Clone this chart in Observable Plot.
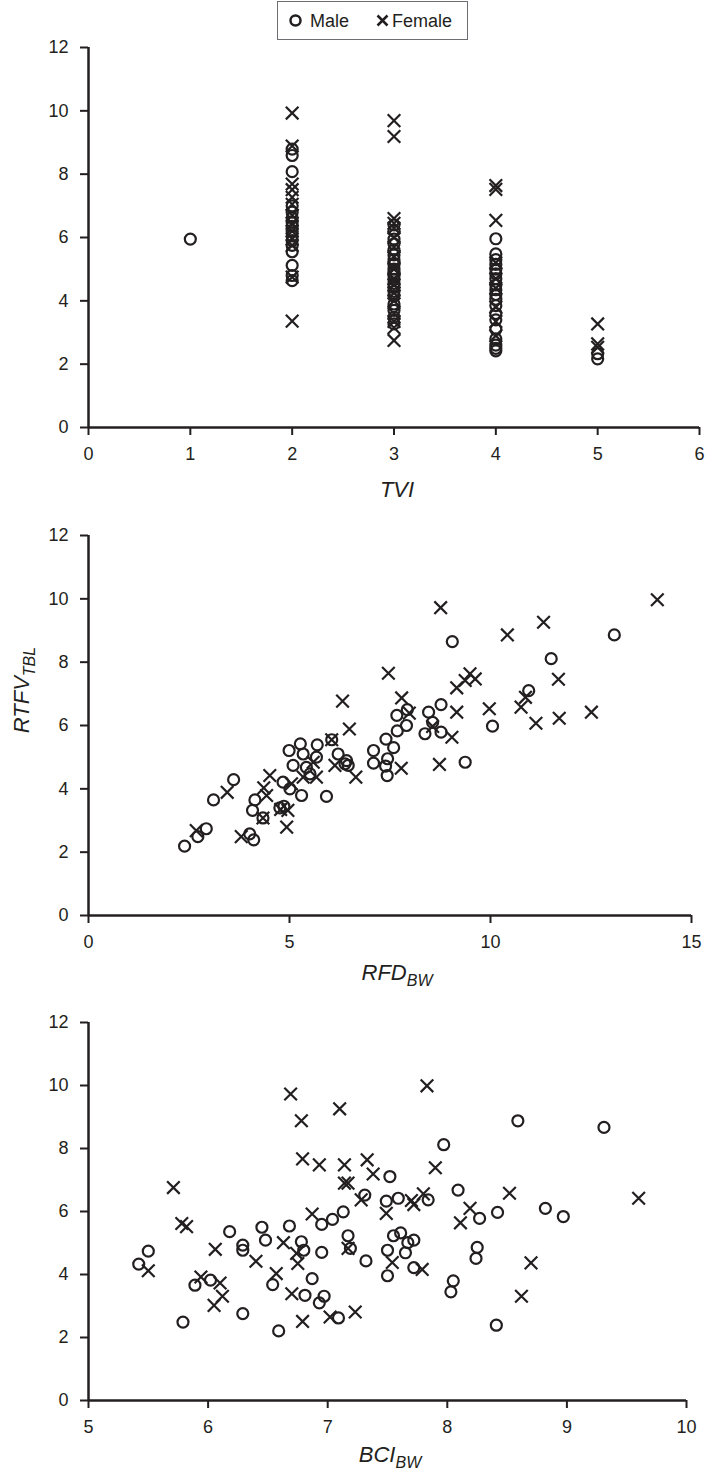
<!DOCTYPE html>
<html>
<head>
<meta charset="utf-8">
<script src="https://cdn.jsdelivr.net/npm/d3@7"></script>
<script src="https://cdn.jsdelivr.net/npm/@observablehq/plot@0.6"></script>
<style>
  body { margin: 0; background: #fff; font-family: "Liberation Sans", Arial, sans-serif; }
  #wrap { position: relative; width: 705px; height: 1480px; }
  #legend { position: absolute; left: 277px; top: 0; z-index: 2; }
  #wrap svg.plotsvg { display: block; }
</style>
</head>
<body>
<div id="wrap">
  <svg id="legend" width="192" height="41" font-family="Liberation Sans, Arial, sans-serif">
    <rect x="0.5" y="1.5" width="190" height="38" fill="white" stroke="#6d6e71" stroke-width="1"></rect>
    <circle cx="18.5" cy="20.5" r="5" fill="none" stroke="#231f20" stroke-width="2.5"></circle>
    <text x="33" y="27" font-size="18" fill="#231f20">Male</text>
    <path d="M100.5,15.5 L110.5,25.5 M110.5,15.5 L100.5,25.5" stroke="#231f20" stroke-width="2.5" fill="none"></path>
    <text x="115" y="27" font-size="18" fill="#231f20">Female</text>
  </svg>
  <div id="charts"></div>
</div>
<script>
// ---------------- data ----------------
const yTicks = [0, 2, 4, 6, 8, 10, 12];

// Panel 1: TVI (categorical 1..5) vs RTFV_TBL
const tviTicks = [0, 1, 2, 3, 4, 5, 6];
const tviLevels = [1, 2, 3, 4, 5];
const maleRTFVbyTVI = [
  [5.95],
  [8.79, 8.59, 8.08, 7.0, 6.8, 6.62, 6.48, 6.35, 6.2, 6.05, 5.9, 5.75, 5.55, 5.12, 4.8, 4.64],
  [6.4, 6.2, 5.95, 5.8, 5.6, 5.45, 5.3, 5.15, 5.0, 4.9, 4.8, 4.68, 4.55, 4.42, 4.3, 4.15, 3.9, 3.7, 3.48, 3.27],
  [5.96, 5.48, 5.3, 5.15, 5.0, 4.85, 4.7, 4.5, 4.35, 4.2, 4.05, 3.85, 3.6, 3.4, 3.1, 2.8, 2.6, 2.5, 2.42],
  [2.33, 2.17]
];
const femaleRTFVbyTVI = [
  [],
  [9.93, 8.89, 7.69, 7.51, 7.27, 7.05, 6.7, 6.45, 6.2, 5.95, 5.75, 4.75, 3.36],
  [9.69, 9.19, 6.6, 6.45, 6.3, 6.0, 5.7, 5.4, 5.0, 4.7, 4.5, 4.25, 4.0, 3.6, 3.35, 3.15, 2.75],
  [7.64, 7.52, 6.54, 5.2, 4.7, 4.4, 3.8, 3.35, 2.9],
  [3.27, 2.64, 2.53]
];

// Panel 2: RFD_BW vs RTFV_TBL  [RFD, RTFV]
const rfdTicks = [0, 5, 10, 15];
const rfdMale = [
  [2.39,2.19],[2.72,2.49],[2.93,2.74],[3.11,3.65],[3.61,4.29],[4.01,2.58],[4.11,2.39],[4.14,3.65],
  [4.08,3.32],[4.34,3.08],[4.76,3.40],[4.86,3.45],[4.84,4.21],[5.01,4.00],[5.09,4.74],[4.99,5.21],
  [5.27,5.42],[5.34,5.10],[5.30,3.79],[5.42,4.68],[5.51,4.47],[5.67,5.00],[5.69,5.39],[5.92,3.76],
  [6.05,5.55],[6.21,5.10],[6.42,4.89],[6.46,4.74],[6.38,4.79],[7.09,5.21],[7.09,4.81],[7.40,5.57],
  [7.59,5.30],[7.44,4.95],[7.43,4.42],[7.39,4.72],[7.68,5.83],[7.91,6.00],[7.67,6.32],[7.93,6.50],
  [8.77,6.66],[8.46,6.42],[8.56,6.10],[8.37,5.74],[8.77,5.79],[9.37,4.84],[10.05,5.98],[10.95,7.10],
  [9.05,8.65],[11.51,8.11],[13.08,8.86]
];
const rfdFemale = [
  [2.68,2.68],[3.45,3.89],[3.80,2.49],[4.36,4.03],[4.43,3.79],[4.51,4.42],[4.34,3.08],[4.78,3.35],
  [4.96,3.32],[4.93,2.79],[5.05,4.16],[5.34,4.37],[5.59,4.84],[5.67,4.37],[6.05,5.55],[6.13,4.74],
  [6.65,4.37],[6.32,6.77],[6.49,5.89],[7.78,4.65],[7.46,7.65],[7.79,6.87],[7.98,6.39],[8.76,9.72],
  [10.42,8.86],[11.32,9.26],[14.15,9.97],[9.16,7.19],[9.37,7.42],[9.49,7.63],[9.62,7.47],[9.16,6.42],
  [8.56,5.97],[9.04,5.63],[8.73,4.77],[9.97,6.53],[10.87,6.89],[10.76,6.58],[11.69,7.46],[11.13,6.07],
  [11.71,6.23],[12.51,6.42]
];

// Panel 3: BCI_BW vs RTFV_TBL  [BCI, RTFV]
const bciTicks = [5, 6, 7, 8, 9, 10];
const bciMale = [
  [7.52,7.11],[7.31,6.52],[7.49,6.33],[7.59,6.42],[6.95,5.59],[7.04,5.75],[7.13,5.99],[6.18,5.36],
  [6.45,5.50],[6.48,5.09],[6.68,5.54],[6.78,5.04],[6.80,4.77],[6.95,4.70],[7.17,5.23],[7.19,4.83],
  [7.32,4.43],[7.55,5.23],[7.61,5.32],[7.67,5.01],[7.72,5.09],[7.50,4.77],[7.65,4.69],[7.50,3.96],
  [7.72,4.22],[5.50,4.74],[5.42,4.33],[6.29,4.93],[6.29,4.77],[6.54,3.68],[6.87,3.87],[5.89,3.66],
  [6.02,3.82],[5.79,2.49],[6.29,2.76],[6.59,2.21],[6.81,3.34],[6.97,3.31],[6.93,3.10],[7.09,2.62],
  [8.59,8.88],[9.31,8.67],[7.97,8.12],[8.09,6.68],[7.84,6.37],[8.27,5.78],[8.42,5.97],[8.82,6.10],
  [8.97,5.84],[8.25,4.86],[8.24,4.51],[8.05,3.80],[8.03,3.45],[8.41,2.39]
];
const bciFemale = [
  [6.69,9.73],[7.10,9.26],[6.78,8.88],[5.71,6.76],[6.79,7.67],[6.93,7.48],[7.14,7.48],[7.33,7.64],
  [7.38,7.19],[7.14,6.90],[7.17,6.90],[7.28,6.37],[7.70,6.35],[7.72,6.22],[7.49,5.94],[6.87,5.92],
  [5.78,5.62],[5.82,5.52],[6.63,5.01],[6.74,4.67],[6.75,4.35],[7.17,4.83],[7.54,4.38],[5.50,4.12],
  [6.06,4.80],[6.40,4.42],[6.57,4.03],[5.94,3.92],[6.10,3.73],[6.12,3.31],[6.05,3.02],[6.70,3.39],
  [6.79,2.51],[7.02,2.65],[7.23,2.81],[7.83,9.99],[7.90,7.39],[8.52,6.58],[9.60,6.42],[7.80,6.56],
  [8.19,6.10],[8.11,5.64],[8.70,4.37],[8.62,3.31],[7.79,4.16]
];

// ---------------- drawing ----------------
const ink = "#231f20";
const fontFamily = "'Liberation Sans', Arial, sans-serif";
const intFormat = d3.format("d");

const tviMale = tviLevels.flatMap((t, i) => maleRTFVbyTVI[i].map(v => [t, v]));
const tviFemale = tviLevels.flatMap((t, i) => femaleRTFVbyTVI[i].map(v => [t, v]));

function panel({height, marginTop, marginBottom, marginRight, xDomain, xTicks, male, female}) {
  const svg = Plot.plot({
    width: 705,
    height,
    marginTop,
    marginBottom,
    marginLeft: 88,
    marginRight,
    x: {domain: xDomain},
    y: {domain: [0, 12]},
    style: {fontFamily, fontSize: "18px", color: ink, background: "white", overflow: "visible"},
    marks: [
      Plot.axisX({ticks: xTicks, tickFormat: intFormat, tickSize: 8, tickPadding: 12, strokeWidth: 2, label: null, stroke: ink, fill: ink}),
      Plot.axisY({ticks: yTicks, tickFormat: intFormat, tickSize: 8, tickPadding: 12, strokeWidth: 2, label: null, stroke: ink, fill: ink}),
      Plot.ruleX([xDomain[0]], {stroke: ink, strokeWidth: 2.5}),
      Plot.ruleY([0], {stroke: ink, strokeWidth: 2.5}),
      Plot.dot(male, {x: d => d[0], y: d => d[1], symbol: "circle", r: 5.5, stroke: ink, strokeWidth: 2.2, fill: "none"}),
      Plot.dot(female, {x: d => d[0], y: d => d[1], symbol: "times", r: 5.8, stroke: ink, strokeWidth: 2.2})
    ]
  });
  svg.classList.add("plotsvg");
  return svg;
}

function axisTitle(svg, {x, y, main, sub, rotate}) {
  const t = d3.select(svg).append("text")
    .attr("text-anchor", "middle")
    .attr("font-family", fontFamily)
    .attr("font-style", "italic")
    .attr("font-size", 22)
    .attr("fill", ink)
    .attr("transform", `translate(${x},${y})` + (rotate ? " rotate(-90)" : ""));
  t.append("tspan").text(main);
  if (sub) t.append("tspan").attr("font-size", 16).attr("dy", 6).text(sub);
}

const charts = document.getElementById("charts");

const p1 = panel({height: 490, marginTop: 47, marginBottom: 63, marginRight: 6,
  xDomain: [0, 6], xTicks: tviTicks, male: tviMale, female: tviFemale});
axisTitle(p1, {x: 397, y: 497, main: "TVI"});
charts.appendChild(p1);

const p2 = panel({height: 485, marginTop: 45, marginBottom: 60, marginRight: 14,
  xDomain: [0, 15], xTicks: rfdTicks, male: rfdMale, female: rfdFemale});
axisTitle(p2, {x: 397, y: 490, main: "RFD", sub: "BW"});
axisTitle(p2, {x: 29, y: 200, main: "RTFV", sub: "TBL", rotate: true});
charts.appendChild(p2);

const p3 = panel({height: 505, marginTop: 47, marginBottom: 80, marginRight: 19,
  xDomain: [5, 10], xTicks: bciTicks, male: bciMale, female: bciFemale});
axisTitle(p3, {x: 390, y: 487, main: "BCI", sub: "BW"});
charts.appendChild(p3);
</script>
</body>
</html>
